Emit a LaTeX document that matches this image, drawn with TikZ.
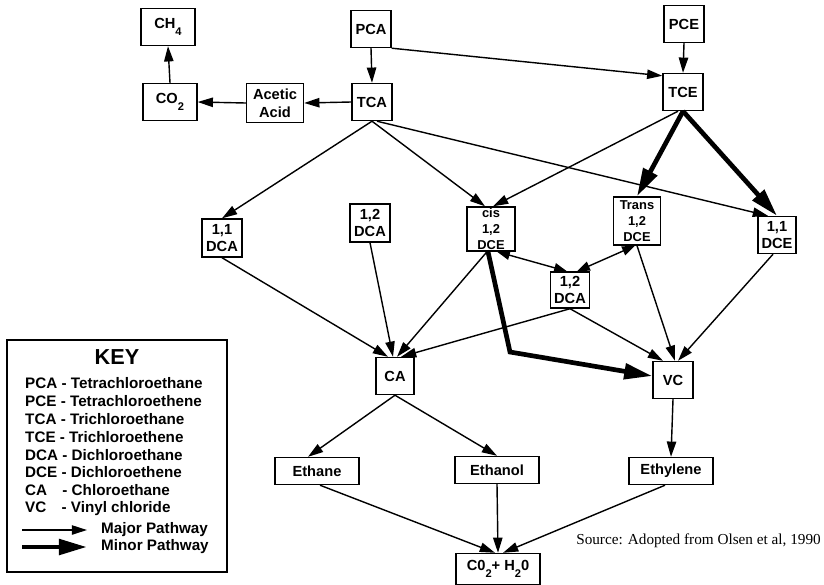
\documentclass[tikz,border=0pt]{standalone}
\usepackage{fontspec}
\setmainfont{Liberation Sans}
\newfontfamily\sourcefont{Liberation Serif}
\usetikzlibrary{arrows.meta}

% lowered index for the formulas (CH4, CO2, H2O)
\newcommand{\lowsub}[1]{\raisebox{-1ex}{\fontsize{9.5}{9.5}\selectfont #1}}

\tikzset{
  box/.style={draw, line width=1.2pt, inner sep=1pt, align=center,
              font=\fontsize{12.5}{15}\selectfont\bfseries,
              minimum width=1.2cm, minimum height=1.11cm},
  tallbox/.style={box, font=\fontsize{11}{13.5}\selectfont\bfseries},
  widebox/.style={box, minimum width=2.52cm, minimum height=0.81cm},
  keyrow/.style={anchor=west, inner sep=0pt, font=\fontsize{13}{15}\selectfont\bfseries},
  major/.style={-{Triangle[length=13pt,width=8pt]}, line width=1.2pt},
  minor/.style={-{Triangle[length=24pt,width=13pt]}, line width=4pt},
  mutual/.style={{Triangle[length=11pt,width=8pt]}-{Triangle[length=11pt,width=8pt]}, line width=1.2pt},
}

\begin{document}
\begin{tikzpicture}[x=0.03cm, y=-0.03cm]
    \useasboundingbox (0,0) rectangle (824,584);

    % parent compounds and first products
    \node[box] (pca) at (371,29) {PCA};
    \node[box] (pce) at (684,24) {PCE};
    \node[box, minimum width=1.62cm] (methane) at (168,27) {CH\lowsub{4}};
    \node[box, minimum width=1.62cm] (cotwo) at (170,102) {CO\lowsub{2}};
    \node[box, minimum width=1.71cm, minimum height=1.17cm] (acetic) at (275,103) {Acetic\\Acid};
    \node[box] (tca) at (372,102) {TCA};
    \node[box] (tce) at (683,92) {TCE};

    % dichloro compounds
    \node[box, minimum height=1.14cm] (dcaA) at (222,238) {1,1\\DCA};
    \node[box, minimum height=1.14cm] (dcaB) at (370,223) {1,2\\DCA};
    \node[box, minimum width=1.17cm, minimum height=1.08cm] (dcaC) at (570,290) {1,2\\DCA};
    \node[tallbox, minimum width=1.44cm, minimum height=1.32cm] (cisdce) at (491,229) {cis\\1,2\\DCE};
    \node[tallbox, minimum width=1.41cm, minimum height=1.44cm] (transdce) at (637,221) {Trans\\1,2\\DCE};
    \node[box, minimum width=1.14cm] (dceA) at (777,235) {1,1\\DCE};

    \node[box, minimum width=1.14cm] (ca) at (395,376) {CA};
    \node[box] (vc) at (673,380) {VC};

    % end products
    \node[widebox] (ethane) at (317,471) {Ethane};
    \node[widebox] (ethanol) at (497,470) {Ethanol};
    \node[widebox] (ethylene) at (671,471) {Ethylene};
    \node[widebox, minimum height=0.93cm] (water) at (498,569) {C0\lowsub{2}+ H\lowsub{2}0};

    % pathways
    \draw[major] (pca.south) -- (tca.north);
    \draw[major] (pca.south east) -- ([shift={(0,3)}]tce.north west);
    \draw[major] (pce.south) -- (tce.north);
    \draw[major] (tca.west) -- (acetic.east);
    \draw[major] (acetic.west) -- (cotwo.east);
    \draw[major] (cotwo.north) -- (methane.south);

    \draw[major] (tca.south) -- (dcaA.north);
    \draw[major] (tca.south) -- ([shift={(-6,0)}]cisdce.north);
    \draw[major] ([shift={(5,0)}]tca.south) -- ([shift={(-9,0)}]dceA.north);
    \draw[major] ([shift={(-5,0)}]tce.south) -- ([shift={(2,0)}]cisdce.north);
    \draw[minor] (tce.south) -- (transdce.north);
    \draw[minor] (tce.south) -- (dceA.north);

    \draw[major] (dcaA.south) -- ([shift={(-7,0)}]ca.north);
    \draw[major] (dcaB.south) -- ([shift={(-2,0)}]ca.north);
    \draw[major] ([shift={(-4,0)}]cisdce.south) -- ([shift={(2,0)}]ca.north);
    \draw[major] (dcaC.south) -- ([shift={(6,0)}]ca.north);
    \draw[mutual] ([shift={(6,0)}]cisdce.south) -- ([shift={(-3,0)}]dcaC.north);
    \draw[mutual] ([shift={(-2,0)}]transdce.south) -- ([shift={(7,0)}]dcaC.north);

    \draw[major] (transdce.south) -- ([shift={(2,0)}]vc.north);
    \draw[major] ([shift={(-4,0)}]dceA.south) -- ([shift={(5,0)}]vc.north);
    \draw[major] (dcaC.south) -- ([shift={(-10,0)}]vc.north);
    \coordinate (kink) at (510,352);
    \draw[minor] ([shift={(-3,0)}]cisdce.south) -- (kink) -- ([shift={(0,-4)}]vc.west);

    \draw[major] (ca.south) -- ([shift={(-9,0)}]ethane.north);
    \draw[major] (ca.south) -- (ethanol.north);
    \draw[major] (vc.south) -- (ethylene.north);
    \draw[major] ([shift={(3,0)}]ethane.south) -- ([shift={(-3,0)}]water.north);
    \draw[major] (ethanol.south) -- (water.north);
    \draw[major] ([shift={(-6,0)}]ethylene.south) -- ([shift={(5,0)}]water.north);

    % key
    \node[draw, line width=1.2pt, minimum width=6.6cm, minimum height=6.96cm] (keybox) at (117,456) {};
    \node[font=\fontsize{18.5}{20}\selectfont\bfseries] (keytitle) at (117,357) {KEY};
    \foreach \abbr/\full [count=\i] in {PCA/Tetrachloroethane, PCE/Tetrachloroethene,
        TCA/Trichloroethane, TCE/Trichloroethene, DCA/Dichloroethane, DCE/Dichloroethene,
        CA\hspace{0.72em}/Chloroethane, VC\hspace{0.72em}/Vinyl chloride}
      \node[keyrow] (key\i) at (25,365.1+17.9*\i) {\abbr\ - \full};
    \coordinate (majorA) at (22,530);
    \coordinate (majorB) at (87,530);
    \draw[major] (majorA) -- (majorB);
    \node[keyrow] (majorlabel) at (101,530) {Major Pathway};
    \coordinate (minorA) at (22,547);
    \coordinate (minorB) at (87,547);
    \draw[minor] (minorA) -- (minorB);
    \node[keyrow] (minorlabel) at (101,547) {Minor Pathway};

    \node[anchor=east, inner sep=0pt, font=\sourcefont\fontsize{13}{15}\selectfont] (source) at (821,541) {Source: Adopted from Olsen et al, 1990};
\end{tikzpicture}
\end{document}
